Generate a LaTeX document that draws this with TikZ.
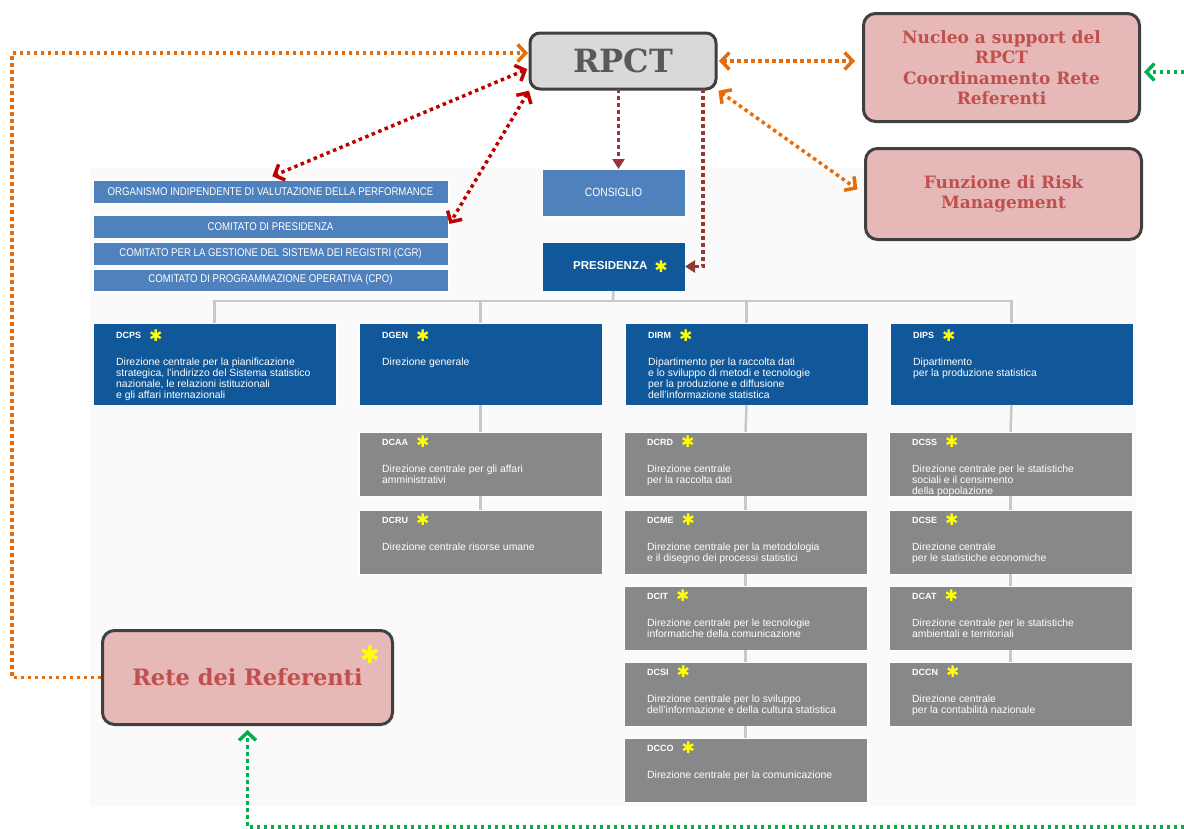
\documentclass[tikz,border=0pt]{standalone}
\usepackage{fontspec}
\usepackage{tikz}
\usepackage{xcolor}
\usetikzlibrary{calc,arrows.meta}
\newfontfamily\corpo{Liberation Sans}
\newfontfamily\stretto[FakeStretch=0.86]{Liberation Sans}
\newfontfamily\slab{DejaVu Serif}
\newfontfamily\simboli{DejaVu Sans}
\definecolor{blusuro}{HTML}{11589A}
\definecolor{bluchiaro}{HTML}{4F81BD}
\definecolor{grigiobox}{HTML}{87888A}
\definecolor{rosabox}{HTML}{E6B8B7}
\definecolor{rossotesto}{HTML}{C0504D}
\definecolor{bordo}{HTML}{404040}
\definecolor{arancio}{HTML}{E46C0A}
\definecolor{rossoscuro}{HTML}{C00000}
\definecolor{mattone}{HTML}{953735}
\definecolor{verde}{HTML}{00B050}
\definecolor{giallo}{HTML}{FFFF00}
\definecolor{ramo}{HTML}{C8C8C8}
\newcommand{\stella}[1][16]{% asterisco giallo
{\color{giallo}\simboli\fontsize{#1}{#1}\selectfont\raisebox{-2.5pt}{✱}}}
\tikzstyle{riquadro} = [
    anchor=north west,
    inner sep=0pt,
    outer sep=0pt,
    draw=white,
    line width=0.6pt
    ]
\tikzstyle{comitato} = [
    riquadro,
    fill=bluchiaro,
    text=white,
    minimum width=355pt,
    minimum height=23pt,
    font=\stretto\fontsize{11.2}{12}\selectfont
    ]
\tikzstyle{dirblu} = [riquadro, fill=blusuro, minimum width=243pt, minimum height=82pt]
\tikzstyle{dirgri} = [riquadro, fill=grigiobox, minimum width=243pt, minimum height=64pt]
\tikzstyle{sigla} = [
    anchor=base west,
    inner sep=0pt,
    text=white,
    font=\corpo\bfseries\fontsize{9}{10}\selectfont
    ]
\tikzstyle{testo} = [
    anchor=north west,
    inner sep=0pt,
    text=white,
    align=left,
    font=\corpo\fontsize{10.4}{11}\selectfont
    ]
\tikzstyle{rosa} = [
    anchor=north west,
    draw=bordo,
    line width=3pt,
    rounded corners=12pt,
    fill=rosabox,
    text=rossotesto,
    align=center,
    inner sep=0pt,
    font=\slab\bfseries\fontsize{17}{20.5}\selectfont
    ]
\tikzstyle{freccia} = [line width=3.5pt, dash pattern=on 3.5pt off 3.5pt]
\tikzstyle{albero} = [draw=ramo, line width=2.5pt]
\tikzset{>={Straight Barb[length=8pt,width=17pt]}}
\newcommand{\direz}[7]{% nome, stile, x, y, sigla, testo, scarto
  \node[#2] (#1) at (#3,#4) {};
  \node[sigla] (#1-s) at ([shift={(23,#7)}]#1.north west) {#5\hspace{8pt}\stella};
  \node[testo] (#1-t) at ([shift={(23,#7+19.5)}]#1.north west) {#6};
}

\begin{document}
\begin{tikzpicture}[x=1pt, y=-1pt]
\useasboundingbox (0,0) rectangle (1184,828);
\fill[black!2] (90,168) rectangle (1136,806);

\node[riquadro, draw=bordo, line width=3pt, rounded corners=10pt, fill=black!15,
      minimum width=186pt, minimum height=56pt, text=black!65,
      font=\slab\bfseries\fontsize{32}{32}\selectfont] (rpct) at (530,33) {RPCT};
\node[rosa, minimum width=276pt, minimum height=108pt] (nucleo) at (862,12)
    {Nucleo a support del\\RPCT\\Coordinamento Rete\\Referenti};
\node[rosa, minimum width=276pt, minimum height=91pt] (risk) at (864,147)
    {Funzione di Risk\\Management};
\node[rosa, minimum width=290pt, minimum height=94pt,
      font=\slab\bfseries\fontsize{22.5}{24}\selectfont] (rete) at (101,629) {Rete dei Referenti};
\node[inner sep=0pt] (rete-s) at ([shift={(-24,26)}]rete.north east) {\stella[24]};

% organi
\node[comitato] (oiv) at (93,180) {ORGANISMO INDIPENDENTE DI VALUTAZIONE DELLA PERFORMANCE};
\node[comitato] (compres) at (93,215) {COMITATO DI PRESIDENZA};
\node[comitato] (cgr) at (93,242) {COMITATO PER LA GESTIONE DEL SISTEMA DEI REGISTRI (CGR)};
\node[comitato, minimum height=22pt] (cpo) at (93,269) {COMITATO DI PROGRAMMAZIONE OPERATIVA (CPO)};
\node[comitato, minimum width=143pt, minimum height=47pt,
      font=\stretto\fontsize{12}{13}\selectfont] (consiglio) at (542,169) {CONSIGLIO};
\node[comitato, fill=blusuro, minimum width=143pt, minimum height=49pt,
      font=\corpo\bfseries\fontsize{11.5}{12}\selectfont] (pres) at (542,242)
    {\hspace*{14pt}PRESIDENZA\hspace{7pt}\stella};

% dipartimenti e direzioni
\direz{dcps}{dirblu}{93}{323}{DCPS}{Direzione centrale per la pianificazione\\strategica, l’indirizzo del Sistema statistico\\nazionale, le relazioni istituzionali\\e gli affari internazionali}{15.5}
\direz{dgen}{dirblu}{359}{323}{DGEN}{Direzione generale}{15.5}
\direz{dirm}{dirblu}{625}{323}{DIRM}{Dipartimento per la raccolta dati\\e lo sviluppo di metodi e tecnologie\\per la produzione e diffusione\\dell’informazione statistica}{15.5}
\direz{dips}{dirblu}{890}{323}{DIPS}{Dipartimento\\per la produzione statistica}{15.5}
\direz{dcaa}{dirgri}{359}{432}{DCAA}{Direzione centrale per gli affari\\amministrativi}{13}
\direz{dcru}{dirgri}{359}{510}{DCRU}{Direzione centrale risorse umane}{13}
\direz{dcrd}{dirgri}{624}{432}{DCRD}{Direzione centrale\\per la raccolta dati}{13}
\direz{dcme}{dirgri}{624}{510}{DCME}{Direzione centrale per la metodologia\\e il disegno dei processi statistici}{13}
\direz{dcit}{dirgri}{624}{586}{DCIT}{Direzione centrale per le tecnologie\\informatiche della comunicazione}{13}
\direz{dcsi}{dirgri}{624}{662}{DCSI}{Direzione centrale per lo sviluppo\\dell’informazione e della cultura statistica}{13}
\direz{dcco}{dirgri}{624}{738}{DCCO}{Direzione centrale per la comunicazione}{13}
\direz{dcss}{dirgri}{889}{432}{DCSS}{Direzione centrale per le statistiche\\sociali e il censimento\\della popolazione}{13}
\direz{dcse}{dirgri}{889}{510}{DCSE}{Direzione centrale\\per le statistiche economiche}{13}
\direz{dcat}{dirgri}{889}{586}{DCAT}{Direzione centrale per le statistiche\\ambientali e territoriali}{13}
\direz{dccn}{dirgri}{889}{662}{DCCN}{Direzione centrale\\per la contabilità nazionale}{13}

% organigramma
\coordinate (barra) at (613,301);
\draw[albero] (pres.south) -- (barra);
\foreach \d in {dcps,dgen,dirm,dips}
    \draw[albero] (barra) -| (\d.north);
\foreach \a/\b in {dgen/dcaa,dcaa/dcru,dirm/dcrd,dcrd/dcme,dcme/dcit,dcit/dcsi,dcsi/dcco,dips/dcss,dcss/dcse,dcse/dcat,dcat/dccn}
    \draw[albero] (\a.south) -- (\b.north);

% frecce
\coordinate (angolo) at (12,53);
\draw[freccia, arancio, ->, shorten >=2pt] (rete.west) -| (angolo) -- ([yshift=8pt]rpct.west);
\draw[freccia, arancio, <->, shorten <=3pt, shorten >=7pt] (rpct.east) -- (rpct.east -| nucleo.west);
\draw[freccia, arancio, <->, shorten <=3pt, shorten >=8pt] (rpct.south east) -- (risk.west);
\draw[freccia, rossoscuro, <->, shorten <=3pt, shorten >=2pt] ([yshift=-7pt]rpct.west) -- ([yshift=3pt]oiv.north);
\draw[freccia, rossoscuro, <->, shorten <=2pt, shorten >=3pt] (rpct.south west) -- (compres.east);
\draw[freccia, mattone, -{Triangle[length=10pt,width=12pt]}] ([xshift=5pt]consiglio.north |- rpct.south) -- ([xshift=5pt]consiglio.north);
\draw[freccia, mattone, -{Triangle[length=10pt,width=12pt]}] ([xshift=-13pt]rpct.south east) |- (pres.east);
\coordinate (verde1) at (1184,72);
\coordinate (verde2) at (1184,827);
\draw[freccia, verde, ->, shorten >=3pt] (verde1) -- (verde1 -| nucleo.east);
\draw[freccia, verde, ->, shorten >=4pt] (verde2) -| (rete.south);
\end{tikzpicture}
\end{document}
